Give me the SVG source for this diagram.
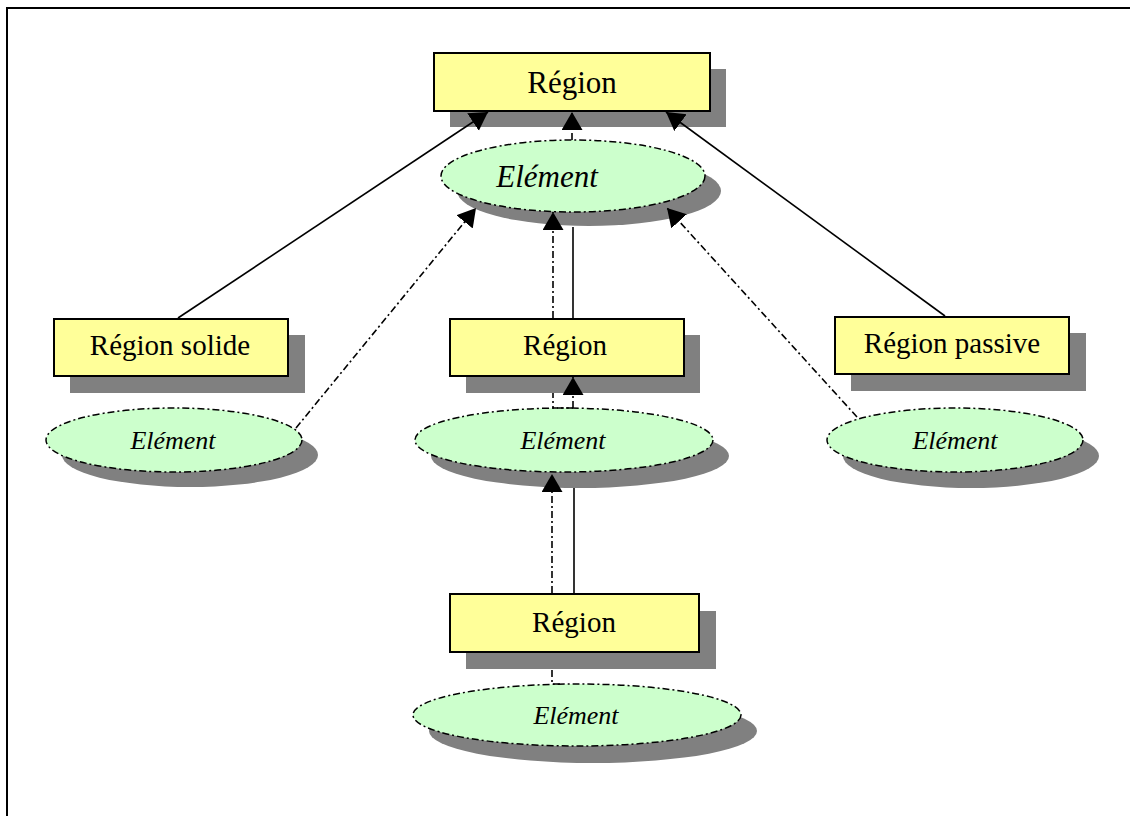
<svg xmlns="http://www.w3.org/2000/svg" width="1130" height="816" viewBox="0 0 1130 816">
<style>
.shadow{fill:#808080;stroke:none}
.box{fill:#ffff99;stroke:#000;stroke-width:2}
.ell{fill:#ccffcc;stroke:#000;stroke-width:1.5;stroke-dasharray:7 3 2 3}
.t{font-family:"Liberation Serif","Times New Roman",serif;fill:#000;text-anchor:middle}
.i{font-style:italic}
.solid{fill:none;stroke:#000;stroke-width:1.6}
.dd{fill:none;stroke:#000;stroke-width:1.6;stroke-dasharray:7 3 2 3}
</style>
<defs>
<marker id="ah" markerUnits="userSpaceOnUse" markerWidth="20" markerHeight="22" refX="18" refY="10.5" orient="auto">
<path d="M0,0 L18,10.5 L0,21 z" fill="#000"/>
</marker>
</defs>
<rect x="0" y="0" width="1130" height="816" fill="#fff"/>
<path d="M7,816 L7,8 L1130,8" fill="none" stroke="#000" stroke-width="2"/>

<g id="region-top">
<rect class="shadow" x="450" y="69" width="276" height="58"/>
<rect class="box" x="434" y="53" width="276" height="58"/>
<text class="t" x="572" y="93" font-size="31">Région</text>
</g>

<g id="element-top">
<ellipse class="shadow" cx="589" cy="191" rx="132" ry="35"/>
<ellipse class="ell" cx="573" cy="176" rx="132" ry="36"/>
<text class="t i" x="547" y="187" font-size="31">Elément</text>
</g>

<g id="region-solide">
<rect class="shadow" x="70" y="335" width="235" height="58"/>
<rect class="box" x="54" y="319" width="234" height="57"/>
<text class="t" x="170" y="355" font-size="29">Région solide</text>
</g>

<g id="element-left">
<ellipse class="shadow" cx="190" cy="455" rx="128" ry="32"/>
<ellipse class="ell" cx="174" cy="440" rx="128" ry="32"/>
<text class="t i" x="173" y="449" font-size="26">Elément</text>
</g>

<g id="region-middle">
<rect class="shadow" x="466" y="335" width="234" height="58"/>
<rect class="box" x="450" y="319" width="234" height="57"/>
<text class="t" x="565" y="355" font-size="29">Région</text>
</g>

<g id="element-middle">
<ellipse class="shadow" cx="580" cy="456" rx="149" ry="32"/>
<ellipse class="ell" cx="564" cy="440" rx="149" ry="32"/>
<text class="t i" x="563" y="449" font-size="26">Elément</text>
</g>

<g id="region-passive">
<rect class="shadow" x="851" y="333" width="235" height="58"/>
<rect class="box" x="835" y="317" width="234" height="57"/>
<text class="t" x="952" y="353" font-size="29">Région passive</text>
</g>

<g id="element-right">
<ellipse class="shadow" cx="971" cy="456" rx="128" ry="32"/>
<ellipse class="ell" cx="955" cy="440" rx="128" ry="32"/>
<text class="t i" x="955" y="449" font-size="26">Elément</text>
</g>

<g id="region-bottom">
<rect class="shadow" x="466" y="611" width="250" height="58"/>
<rect class="box" x="450" y="594" width="249" height="58"/>
<text class="t" x="574" y="632" font-size="29">Région</text>
</g>

<g id="element-bottom">
<ellipse class="shadow" cx="593" cy="731" rx="164" ry="32"/>
<ellipse class="ell" cx="577" cy="715" rx="164" ry="31"/>
<text class="t i" x="576" y="724" font-size="26">Elément</text>
</g>

<g id="connectors">
<line class="solid" x1="178" y1="318" x2="488" y2="112" marker-end="url(#ah)"/>
<line class="solid" x1="945" y1="316" x2="666" y2="112" marker-end="url(#ah)"/>
<line class="solid" x1="573" y1="318" x2="573" y2="227"/>
<line class="dd" x1="572" y1="140" x2="572" y2="112" marker-end="url(#ah)"/>
<line class="solid" x1="574" y1="593" x2="574" y2="488"/>
<line class="dd" x1="573" y1="408" x2="573" y2="377" marker-end="url(#ah)"/>
<line class="dd" x1="296" y1="428" x2="476" y2="208" marker-end="url(#ah)"/>
<line class="dd" x1="857" y1="417" x2="667" y2="208" marker-end="url(#ah)"/>
<path class="dd" d="M573,408 L553,408 L553,393"/>
<line class="dd" x1="553" y1="318" x2="553" y2="212" marker-end="url(#ah)"/>
<path class="dd" d="M560,684 L552,684 L552,669"/>
<line class="dd" x1="552" y1="593" x2="552" y2="474" marker-end="url(#ah)"/>
</g>
</svg>
